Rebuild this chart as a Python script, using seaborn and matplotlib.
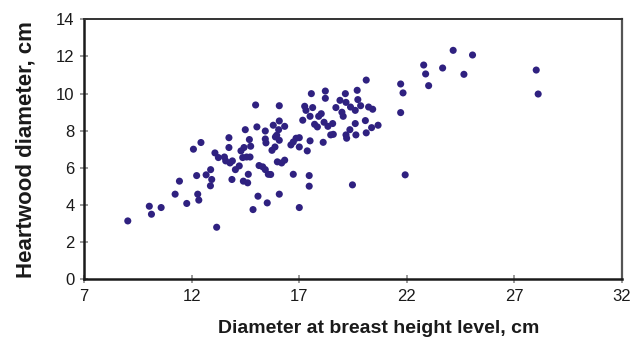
import matplotlib
matplotlib.use("Agg")
import matplotlib.pyplot as plt
import seaborn as sns
import pandas as pd

dbh = [9.03, 10.03, 10.13, 10.58, 11.23, 11.43, 11.77, 12.08, 12.23, 12.28,
       12.33, 12.43, 12.67, 12.87, 12.88, 12.93, 13.08, 13.16, 13.24, 13.52,
       13.58, 13.73, 13.73, 13.78, 13.89, 13.87, 14.03, 14.21, 14.29, 14.37,
       14.43, 14.40, 14.49, 14.55, 14.60, 14.63, 14.68, 14.71, 14.74, 14.85,
       14.97, 15.03, 15.08, 15.13, 15.42, 15.42, 15.45, 15.30, 15.42, 15.51,
       15.56, 15.67, 15.73, 15.79, 15.87, 15.89, 15.95, 15.98, 16.04, 16.07,
       16.07, 16.07, 16.07, 16.18, 16.32, 16.32, 16.61, 16.72, 16.72, 16.85,
       17.00, 17.00, 17.00, 17.16, 17.25, 17.31, 17.37, 17.46, 17.46, 17.50,
       17.56, 17.62, 17.50, 17.71, 17.84, 17.90, 18.02, 18.11, 18.15, 18.21,
       18.21, 18.33, 18.46, 18.55, 18.58, 18.70, 18.89, 18.98, 19.04, 19.14,
       19.17, 19.17, 19.20, 19.35, 19.38, 19.47, 19.60, 19.60, 19.63, 19.69,
       19.72, 19.85, 20.11, 20.07, 20.11, 20.22, 20.41, 20.36, 20.66, 21.71,
       21.82, 21.71, 21.92, 22.78, 22.87, 23.01, 23.66, 24.15, 24.65, 25.05,
       28.01, 28.10]
heartwood = [3.15, 3.94, 3.51, 3.87, 4.59, 5.29, 4.09, 7.01, 5.59, 4.59,
             4.27, 7.37, 5.63, 5.04, 5.91, 5.38, 6.81, 2.81, 6.56, 6.59,
             6.38, 7.63, 7.10, 6.27, 6.38, 5.38, 5.91, 6.11, 6.92, 6.56,
             7.10, 5.29, 8.06, 6.59, 5.20, 5.66, 7.53, 6.59, 7.17, 3.76,
             9.39, 8.21, 4.48, 6.13, 7.99, 7.56, 7.35, 6.06, 5.91, 4.12,
             5.66, 5.65, 6.95, 8.30, 7.13, 7.67, 7.76, 6.33, 8.06, 9.35,
             8.53, 7.49, 4.59, 6.27, 6.42, 8.24, 7.24, 5.66, 7.40, 7.60,
             7.63, 3.87, 7.13, 8.57, 9.32, 9.10, 6.92, 5.59, 5.02, 7.46,
             10.00, 9.25, 8.78, 8.35, 8.21, 8.78, 8.92, 7.38, 8.46, 10.14,
             9.75, 8.24, 7.78, 8.39, 7.81, 9.25, 9.64, 9.00, 8.78, 10.00,
             9.53, 7.78, 7.60, 8.06, 9.28, 5.09, 8.39, 9.10, 7.78, 10.18,
             9.68, 9.35, 10.73, 8.55, 7.89, 9.28, 9.16, 8.17, 8.30, 10.52,
             10.04, 8.98, 5.63, 11.54, 11.06, 10.43, 11.38, 12.33, 11.04, 12.08,
             11.27, 9.98]

x_ticks = [7, 12, 17, 22, 27, 32]
y_ticks = [0, 2, 4, 6, 8, 10, 12, 14]
x_label = "Diameter at breast height level, cm"
y_label = "Heartwood diameter, cm"

df = pd.DataFrame({"dbh": dbh, "hw": heartwood})

sns.set_style("white")
plt.rcParams["font.family"] = ["Liberation Sans", "DejaVu Sans"]

fig = plt.figure(figsize=(6.42, 3.45), dpi=100)
ax = fig.add_axes([0.131, 0.190, 0.838, 0.754])

sns.scatterplot(data=df, x="dbh", y="hw", ax=ax, color="#2f2180",
                s=26, edgecolor="none", linewidth=0)

ax.set_xlim(7, 32)
ax.set_ylim(0, 14)
ax.set_xticks(x_ticks)
ax.set_yticks(y_ticks)
ax.tick_params(axis="both", direction="inout", length=6, width=1.2,
               labelsize=12, color="#8a8a8a", labelcolor="#1a1a1a",
               pad=4, bottom=True, left=True)
for side in ["left", "bottom"]:
    ax.spines[side].set_linewidth(1.8)
    ax.spines[side].set_color("#1a1a1a")
ax.spines["top"].set_linewidth(1.4)
ax.spines["top"].set_color("#333333")
ax.spines["right"].set_linewidth(1.6)
ax.spines["right"].set_color("#555555")

ax.set_xlabel(x_label, fontsize=14, fontweight="bold", color="#1a1a1a")
ax.set_ylabel(y_label, fontsize=16, fontweight="bold", color="#1a1a1a")
ax.xaxis.set_label_coords(0.548, -0.155)
ax.yaxis.set_label_coords(-0.089, 0.5)

fig.savefig("out.png", dpi=100, facecolor="white")
